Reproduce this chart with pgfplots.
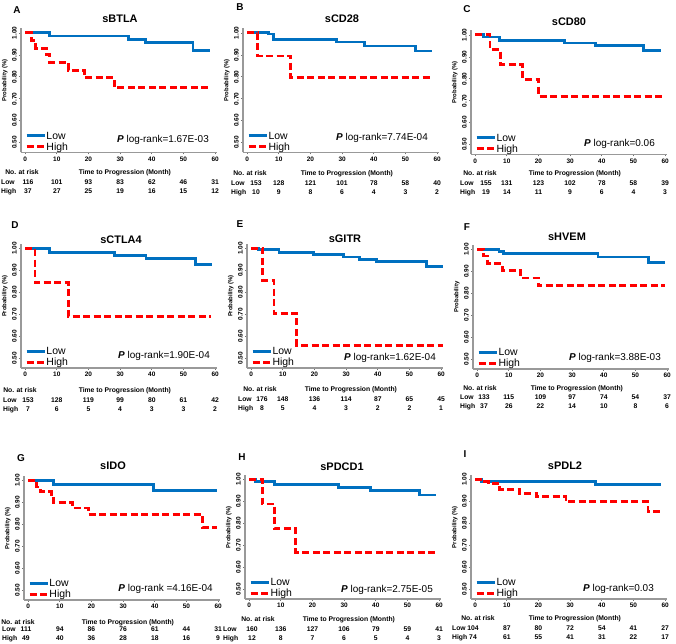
\documentclass[border=0pt]{standalone}
\usepackage{fontspec}
\setmainfont{Liberation Sans}
\usepackage{pgfplots}
\pgfplotsset{compat=1.18}
\definecolor{kmblue}{RGB}{0,112,192}
\definecolor{kmred}{RGB}{255,0,0}
\newcommand\fs[1]{\fontsize{#1}{#1}\selectfont}
\pgfplotsset{
 km/.style={
  scale only axis, width=196bp, height=124bp,
  xmin=-1.3, xmax=60.6, ymin=0.455, ymax=1.02,
  anchor=south west, clip=false,
  axis x line*=bottom, axis y line*=left,
  axis line style={-, black!40, line width=1.2bp},
  xtick={0,10,...,60}, ytick={0.5,0.6,0.7,0.8,0.9,1.0},
  tick align=outside, major tick length=2bp,
  tick style={black!55, line width=0.6bp},
  /pgf/number format/assume math mode=true,
  xticklabel style={font=\fs{6.5}\bfseries, inner sep=2bp},
  yticklabel style={font=\fs{6.5}\bfseries, rotate=90, anchor=south, inner sep=2bp,
     /pgf/number format/.cd, fixed, fixed zerofill, precision=2},
  ylabel={Probability (\%)},
  ylabel style={font=\fs{6}\bfseries, at={(axis description cs:-0.082,0.58)}, anchor=center},
  legend style={at={(axis description cs:0,0)}, anchor=south west, xshift=4bp, yshift=1bp,
     draw=none, fill=none, inner sep=0pt, row sep=2bp, font=\fs{10.5},
     nodes={inner sep=0.5bp, text height=7.5bp, text depth=0.5bp}},
  legend image code/.code={\draw[#1] (0bp,0bp) -- (18bp,0bp);},
  legend cell align=left,
 },
 low/.style={kmblue, line width=2.8bp, const plot, mark=none, solid},
 high/.style={kmred, line width=2.8bp, const plot, mark=none, dash pattern=on 7bp off 3.5bp},
}
\tikzset{
 pl/.style={anchor=east, font=\fs{10}, inner sep=0pt, text height=7bp, text depth=0bp},
 rt/.style={font=\fs{6.8}\bfseries, inner sep=0pt, text height=4.9bp, text depth=0bp, anchor=center},
 ttl/.style={font=\fs{11}\bfseries, inner sep=0pt, text height=8bp, text depth=0bp, anchor=center},
 let/.style={font=\fs{10}\bfseries, inner sep=0pt, text height=7.2bp, text depth=0bp, anchor=center},
}
% #1 L, #2 bottom (px from top), #3 low, #4 high, #5 label x, #6 first number x, #7 NaR x, #8 offset header, #9 offset Low row
\newcommand\risk[9]{%
  \pgfmathsetmacro\xz{#1+1.3*3.1664}%
  \pgfmathsetmacro\ya{644-#2-#8}%
  \pgfmathsetmacro\yb{644-#2-#9}%
  \pgfmathsetmacro\yc{644-#2-#9-9}%
  \pgfmathsetmacro\xt{\xz+31.5*3.1664}%
  \node[rt] at (#7,\ya) {No. at risk};
  \node[rt] at (\xt,\ya) {Time to Progression (Month)};
  \node[rt,anchor=west] at (#5,\yb) {Low};
  \node[rt,anchor=west] at (#5,\yc) {High};
  \foreach \n [count=\i from 0] in {#3}{%
    \pgfmathsetmacro\xx{(\i==0)?(#6):(\xz+10*\i*3.1664)}%
    \node[rt] at (\xx,\yb) {\n};}
  \foreach \n [count=\i from 0] in {#4}{%
    \pgfmathsetmacro\xx{(\i==0)?(#6):(\xz+10*\i*3.1664)}%
    \node[rt] at (\xx,\yc) {\n};}
}
\begin{document}
\begin{tikzpicture}[x=1bp,y=1bp]
\path[use as bounding box] (0,0) rectangle (676,644);

% ---------- A sBTLA
\begin{axis}[km, at={(21bp,491.5bp)}]
\addplot[low] coordinates {(0,1)(7.6,0.986)(32.7,0.971)(38.1,0.955)(53,0.921)(58.5,0.921)};
\addlegendentry{Low}
\addplot[high] coordinates {(0,1)(2,0.965)(3.3,0.93)(6.8,0.90)(7.8,0.866)(13.6,0.83)(18.8,0.795)(28.2,0.75)(58.5,0.75)};
\addlegendentry{High}
\node[pl] at (rel axis cs:1,0) [xshift=-8bp, yshift=13.5bp] {\textbf{\textit{P}} log-rank=1.67E-03};
\end{axis}
\risk{21}{152.5}{116,101,93,83,62,46,31}{37,27,25,19,16,15,12}{1}{28}{22}{20}{30}
\node[ttl] at (120,625) {sBTLA};
\node[let] at (17,634) {A};

% ---------- B sCD28
\begin{axis}[km, at={(243bp,491.5bp)}]
\addplot[low] coordinates {(0,1)(6.8,0.995)(8.3,0.97)(28.2,0.958)(37,0.94)(53.2,0.917)(58.4,0.917)};
\addlegendentry{Low}
\addplot[high] coordinates {(0,1)(3.4,0.895)(13.8,0.795)(58.5,0.795)};
\addlegendentry{High}
\node[pl] at (rel axis cs:1,0) [xshift=-11bp, yshift=15.5bp] {\textbf{\textit{P}} log-rank=7.74E-04};
\end{axis}
\risk{243}{152.5}{153,128,121,101,78,58,40}{10,9,8,6,4,3,2}{231}{256}{250}{21}{31}
\node[ttl] at (342,625) {sCD28};
\node[let] at (240,637) {B};

% ---------- C sCD80
\begin{axis}[km, at={(471bp,489.5bp)}]
\addplot[low] coordinates {(0,1)(2.6,0.99)(7.8,0.974)(28.2,0.963)(38,0.95)(53.2,0.928)(58.7,0.928)};
\addlegendentry{Low}
\addplot[high] coordinates {(0,1)(4.7,0.935)(8,0.866)(15,0.797)(20.1,0.72)(59.8,0.72)};
\addlegendentry{High}
\node[pl] at (rel axis cs:1,0) [xshift=-12bp, yshift=11.5bp] {\textbf{\textit{P}} log-rank=0.06};
\end{axis}
\risk{471}{154.5}{155,131,123,102,78,58,39}{19,14,11,9,6,4,3}{460}{486}{480}{19}{29}
\node[ttl] at (569,622) {sCD80};
\node[let] at (467,635) {C};

% ---------- D sCTLA4
\begin{axis}[km, at={(21bp,276bp)}]
\addplot[low] coordinates {(0,1)(7.6,0.981)(28.3,0.969)(38.2,0.953)(53.7,0.927)(59,0.927)};
\addlegendentry{Low}
\addplot[high] coordinates {(0,1)(3.1,0.845)(13.6,0.69)(58.6,0.69)};
\addlegendentry{High}
\node[pl] at (rel axis cs:1,0) [xshift=-7bp, yshift=13bp] {\textbf{\textit{P}} log-rank=1.90E-04};
\end{axis}
\risk{21}{368}{153,128,119,99,80,61,42}{7,6,5,4,3,3,2}{3}{28}{20}{22}{32}
\node[ttl] at (121,404) {sCTLA4};
\node[let] at (15,419) {D};

% ---------- E sGITR
\begin{axis}[km, at={(247bp,276bp)}]
\addplot[low] coordinates {(0,1)(2.4,0.994)(8.8,0.982)(19.8,0.971)(29.3,0.961)(34.2,0.949)(39.5,0.94)(55.4,0.919)(60.5,0.919)};
\addlegendentry{Low}
\addplot[high] coordinates {(0,1)(3.7,0.854)(7.2,0.704)(14.4,0.558)(60.5,0.558)};
\addlegendentry{High}
\node[pl] at (rel axis cs:1,0) [xshift=-7bp, yshift=11bp] {\textbf{\textit{P}} log-rank=1.62E-04};
\end{axis}
\risk{247}{368}{176,148,136,114,87,65,45}{8,5,4,3,2,2,1}{238}{262}{260}{21}{31}
\node[ttl] at (345,405) {sGITR};
\node[let] at (240,420) {E};

% ---------- F sHVEM
\begin{axis}[km, at={(473bp,275bp)}, ylabel={Probability}]
\addplot[low] coordinates {(0,1)(6.9,0.989)(8.3,0.982)(38.2,0.965)(54.1,0.942)(59.4,0.942)};
\addlegendentry{Low}
\addplot[high] coordinates {(0,1)(2.1,0.97)(3.4,0.935)(8,0.905)(13.8,0.87)(19.3,0.834)(59.4,0.834)};
\addlegendentry{High}
\node[pl] at (rel axis cs:1,0) [xshift=-8bp, yshift=12bp] {\textbf{\textit{P}} log-rank=3.88E-03};
\end{axis}
\risk{473}{369}{133,115,109,97,74,54,37}{37,26,22,14,10,8,6}{460}{484}{480}{19}{28}
\node[ttl] at (567,407) {sHVEM};
\node[let] at (467,417) {F};

% ---------- G sIDO
\begin{axis}[km, at={(24bp,44bp)}]
\addplot[low] coordinates {(0,1)(8,0.98)(39.7,0.955)(59.5,0.955)};
\addlegendentry{Low}
\addplot[high] coordinates {(0,1)(2.7,0.97)(3.8,0.948)(7.3,0.925)(8,0.9)(13.9,0.874)(19,0.845)(55,0.787)(59.5,0.787)};
\addlegendentry{High}
\node[pl] at (rel axis cs:1,0) [xshift=-7bp, yshift=12bp] {\textbf{\textit{P}} log-rank =4.16E-04};
\end{axis}
\risk{24}{600}{111,94,86,76,61,44,31}{49,40,36,28,18,16,9}{2}{26}{18}{22}{29}
\node[ttl] at (113,178) {sIDO};
\node[let] at (21,186) {G};

% ---------- H sPDCD1
\begin{axis}[km, at={(245bp,45bp)}]
\addplot[low] coordinates {(0,1)(2.1,0.99)(8,0.975)(28.3,0.962)(38.3,0.949)(53.7,0.929)(59,0.929)};
\addlegendentry{Low}
\addplot[high] coordinates {(0,1)(4.2,0.888)(8,0.776)(14.7,0.668)(59.5,0.668)};
\addlegendentry{High}
\node[pl] at (rel axis cs:1,0) [xshift=-8bp, yshift=10bp] {\textbf{\textit{P}} log-rank=2.75E-05};
\end{axis}
\risk{245}{599}{160,136,127,106,79,59,41}{12,8,7,6,5,4,3}{223}{252}{258}{20}{30}
\node[ttl] at (342,177) {sPDCD1};
\node[let] at (242,187) {H};

% ---------- I sPDL2
\begin{axis}[km, at={(471bp,45bp)}]
\addplot[low] coordinates {(0,1)(2.1,0.99)(38.1,0.975)(58.7,0.975)};
\addlegendentry{Low}
\addplot[high] coordinates {(0,1)(3,0.99)(4.2,0.98)(7.8,0.954)(14.1,0.936)(19.3,0.922)(28.7,0.898)(54.6,0.855)(58.7,0.855)};
\addlegendentry{High}
\node[pl] at (rel axis cs:1,0) [xshift=-13bp, yshift=11bp] {\textbf{\textit{P}} log-rank=0.03};
\end{axis}
\risk{471}{599}{104,87,80,72,54,41,27}{74,61,55,41,31,22,17}{452}{473}{478}{19}{29}
\node[ttl] at (565,178) {sPDL2};
\node[let] at (465,190) {I};
\end{tikzpicture}
\end{document}
